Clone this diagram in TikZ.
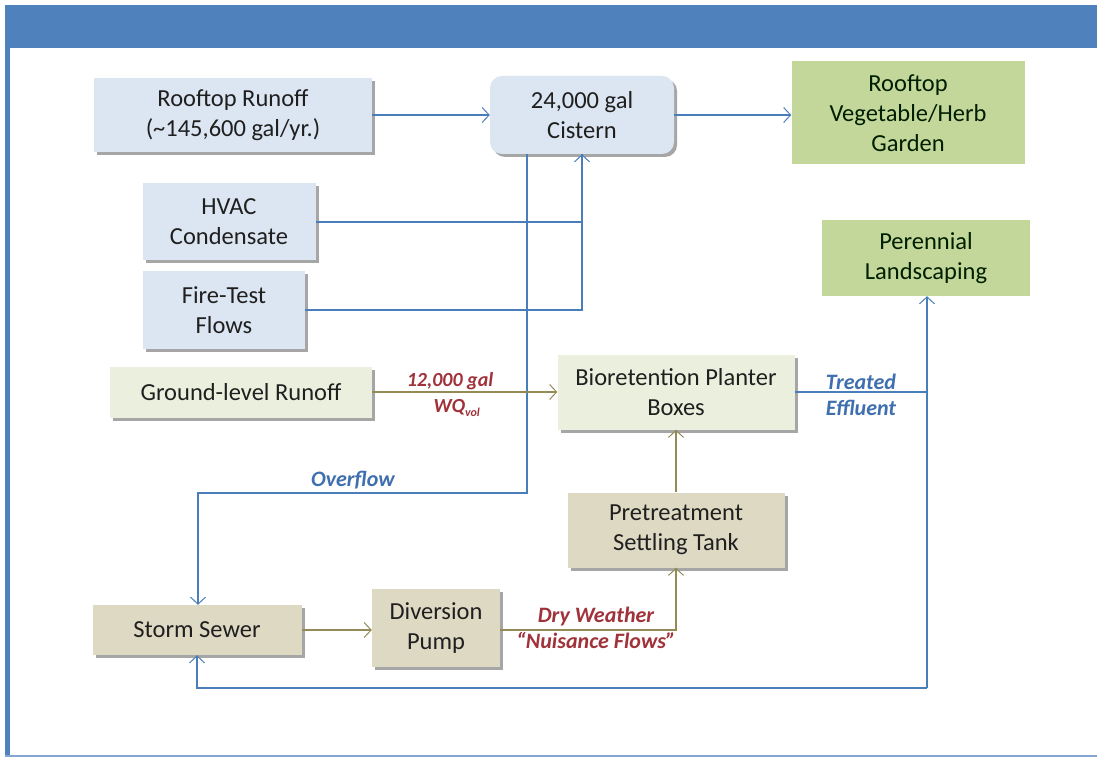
\documentclass[tikz,border=0pt]{standalone}
\usepackage{fontspec}
\setmainfont{Carlito}
\usetikzlibrary{arrows.meta,shadows}
\definecolor{band}{HTML}{4F81BD}
\definecolor{bfill}{HTML}{DCE6F2}
\definecolor{gfill}{HTML}{C4D79B}
\definecolor{cfill}{HTML}{EBF0DE}
\definecolor{tfill}{HTML}{DDD9C3}
\definecolor{bline}{HTML}{4A7EBB}
\definecolor{oline}{HTML}{948A54}
\definecolor{rlab}{HTML}{A0323A}
\definecolor{blab}{HTML}{3F6FAE}
\tikzset{
  plainbox/.style={draw=none, align=center, inner sep=0pt, font=\fontsize{24.5}{30}\selectfont, text=black!88},
  box/.style={plainbox,
    drop shadow={shadow xshift=3pt, shadow yshift=-3pt, fill=black, opacity=0.35}},
  bluebox/.style={box, fill=bfill},
  greenbox/.style={plainbox, fill=gfill, text=black!80!green!60!black},
  creambox/.style={box, fill=cfill},
  tanbox/.style={box, fill=tfill},
  tip/.style={-{Straight Barb[length=7pt,width=15pt,line width=1pt]}},
  bl/.style={draw=bline, line width=1.1pt},
  ol/.style={draw=oline, line width=1.1pt},
  rlabel/.style={font=\fontsize{22}{26}\selectfont\bfseries\itshape, text=rlab, inner sep=0pt},
  blabel/.style={font=\fontsize{22}{26}\selectfont\bfseries\itshape, text=blab, inner sep=0pt},
}
\begin{document}
\begin{tikzpicture}[x=1pt,y=-1pt]
\useasboundingbox (0,0) rectangle (1097,759);
% frame
\fill[white] (0,0) rectangle (1097,759);
\fill[band] (5,5) rectangle (1097,48);
\fill[band] (5,5) rectangle (10,757);
\draw[band!70, line width=1.5pt] (5,756) -- (1097,756);
% nodes
\node[bluebox, minimum width=278pt, minimum height=74pt] (roof) at (233,115) {Rooftop Runoff\\(\textasciitilde145,600 gal/yr.)};
\node[bluebox, rounded corners=12pt, minimum width=184pt, minimum height=78pt] (cist) at (582,115) {24,000 gal\\Cistern};
\node[greenbox, minimum width=233pt, minimum height=103pt] (garden) at (908,113) {Rooftop\\Vegetable/Herb\\Garden};
\node[bluebox, minimum width=173pt, minimum height=77pt] (hvac) at (229,222) {HVAC\\Condensate};
\node[bluebox, minimum width=162pt, minimum height=77pt] (fire) at (224,310) {Fire-Test\\Flows};
\node[greenbox, minimum width=208pt, minimum height=76pt] (peren) at (926,258) {Perennial\\Landscaping};
\node[creambox, minimum width=262pt, minimum height=51pt] (ground) at (241,392) {Ground-level Runoff};
\node[creambox, minimum width=237pt, minimum height=75pt] (bio) at (676,392) {Bioretention Planter\\Boxes};
\node[tanbox, minimum width=217pt, minimum height=75pt] (pre) at (676,530) {Pretreatment\\Settling Tank};
\node[tanbox, minimum width=209pt, minimum height=50pt] (storm) at (197,630) {Storm Sewer};
\node[tanbox, minimum width=128pt, minimum height=78pt] (pump) at (436,628) {Diversion\\Pump};
% coordinates
\coordinate (ovr) at (527,493);
\coordinate (ovl) at (198,493);
\coordinate (te) at (927,392);
\coordinate (bot) at (927,688);
% connectors
\draw[bl,tip] (roof) -- (cist);
\draw[bl,tip] (cist.east) -- (cist.east -| garden.west);
\draw[bl] (fire.east) -| (cist.south);
\draw[bl,tip] (hvac.east) -| (cist.south);
\draw[bl,tip] (cist.south -| ovr) -- (ovr) -- (ovl) -- (ovl |- storm.north);
\draw[ol,tip] (ground.east) -- (bio.west);
\draw[bl] (bio.east) -- (te);
\draw[bl,tip] (bot) -- (bot |- peren.south);
\draw[bl,tip] (bot) -| (storm.south);
\draw[ol,tip] (pre.north) -- (bio.south);
\draw[ol,tip] (storm.east) -- (storm.east -| pump.west);
\draw[ol,tip] (pump.east |- storm.east) -| (pre.south);
% labels
\node[blabel] (lov) at (353,480) {Overflow};
\node[rlabel, font=\fontsize{20}{22}\selectfont\bfseries\itshape] (l12) at (450,381) {12,000 gal};
\node[rlabel, font=\fontsize{20}{22}\selectfont\bfseries\itshape] (lwq) at (457,408) {WQ\textsubscript{\fontsize{12}{13}\selectfont vol}};
\node[blabel, align=left] (lte) at (861,395) {Treated\\Effluent};
\node[rlabel, align=center] (ldw) at (596,628) {Dry Weather\\``Nuisance Flows''};
\end{tikzpicture}
\end{document}
